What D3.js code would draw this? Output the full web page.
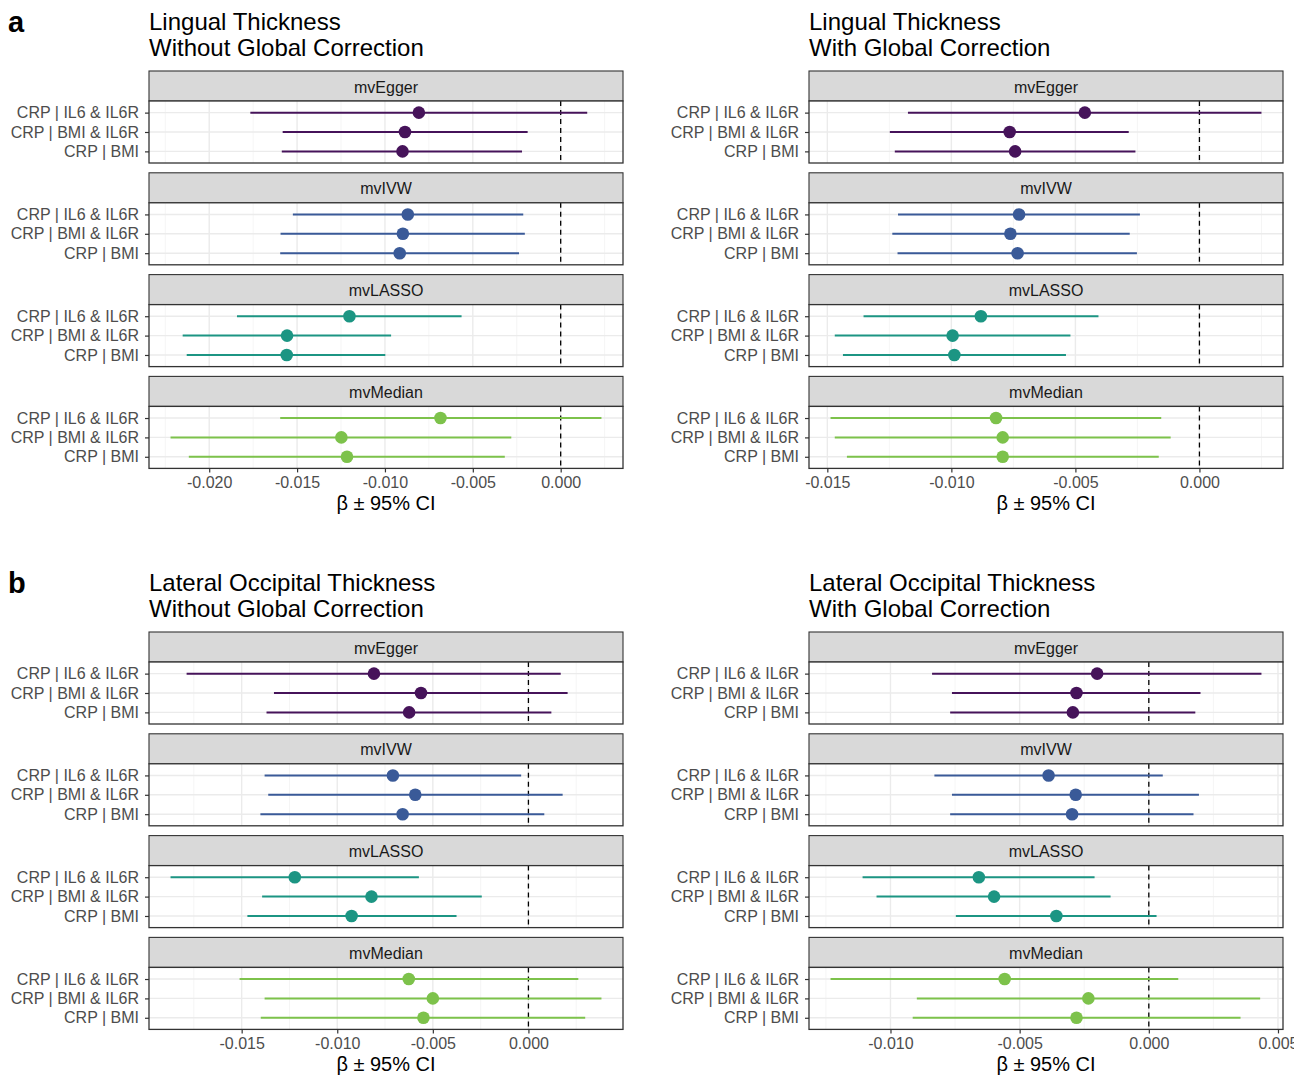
<!DOCTYPE html>
<html>
<head>
<meta charset="utf-8">
<script src="https://cdn.jsdelivr.net/npm/d3@7"></script>
<style>
  html, body { margin: 0; padding: 0; background: #fff; overflow: hidden; }
  svg text { font-family: "Liberation Sans", Arial, Helvetica, sans-serif; }
</style>
</head>
<body>
<div id="chart"></div>
<script>
// facets and rows (rows listed top to bottom)
const methods = ['mvEgger', 'mvIVW', 'mvLASSO', 'mvMedian'];
const exposures = ['CRP | IL6 & IL6R', 'CRP | BMI & IL6R', 'CRP | BMI'];

// values are ordered method by method, each with the three exposures above
// a: lingual thickness, without global correction
const lingualRawBeta  = [-0.00807, -0.00886, -0.00900, -0.00870, -0.00898, -0.00916, -0.01202, -0.01557, -0.01559, -0.00684, -0.01248, -0.01216];
const lingualRawLower = [-0.01766, -0.01582, -0.01587, -0.01524, -0.01594, -0.01596, -0.01842, -0.02151, -0.02128, -0.01596, -0.02220, -0.02116];
const lingualRawUpper = [ 0.00151, -0.00188, -0.00220, -0.00213, -0.00204, -0.00237, -0.00564, -0.00965, -0.00998,  0.00232, -0.00281, -0.00318];

// a: lingual thickness, with global correction
const lingualGlobBeta  = [-0.00462, -0.00765, -0.00743, -0.00727, -0.00762, -0.00733, -0.00881, -0.00995, -0.00988, -0.00820, -0.00793, -0.00793];
const lingualGlobLower = [-0.01175, -0.01248, -0.01228, -0.01215, -0.01238, -0.01217, -0.01354, -0.01470, -0.01437, -0.01487, -0.01470, -0.01421];
const lingualGlobUpper = [ 0.00250, -0.00285, -0.00258, -0.00240, -0.00281, -0.00252, -0.00407, -0.00520, -0.00538, -0.00154, -0.00116, -0.00164];

// b: lateral occipital thickness, without global correction
const occipRawBeta  = [-0.00808, -0.00562, -0.00624, -0.00709, -0.00592, -0.00658, -0.01222, -0.00821, -0.00925, -0.00626, -0.00500, -0.00549];
const occipRawLower = [-0.01788, -0.01331, -0.01370, -0.01380, -0.01361, -0.01402, -0.01872, -0.01393, -0.01470, -0.01511, -0.01380, -0.01400];
const occipRawUpper = [ 0.00169,  0.00205,  0.00120, -0.00038,  0.00179,  0.00083, -0.00573, -0.00244, -0.00376,  0.00261,  0.00382,  0.00297];

// b: lateral occipital thickness, with global correction
const occipGlobBeta  = [-0.00200, -0.00280, -0.00294, -0.00388, -0.00283, -0.00297, -0.00658, -0.00599, -0.00358, -0.00558, -0.00234, -0.00280];
const occipGlobLower = [-0.00839, -0.00762, -0.00769, -0.00830, -0.00762, -0.00769, -0.01108, -0.01054, -0.00747, -0.01232, -0.00898, -0.00914];
const occipGlobUpper = [ 0.00436,  0.00200,  0.00180,  0.00054,  0.00194,  0.00173, -0.00210, -0.00148,  0.00030,  0.00114,  0.00431,  0.00355];

// x axis breaks per plot
const ticksLingualRaw  = [-0.020, -0.015, -0.010, -0.005, 0.000];
const ticksLingualGlob = [-0.015, -0.010, -0.005, 0.000];
const ticksOccipRaw    = [-0.015, -0.010, -0.005, 0.000];
const ticksOccipGlob   = [-0.010, -0.005, 0.000, 0.005];

const methodColors = ['#46135a', '#3a5a98', '#1c9583', '#7dc24b'];

const W = 1294, H = 1079;
const svg = d3.select('#chart').append('svg')
  .attr('width', W)
  .attr('height', H);

const plots = [
  { letter: 'a', title: ['Lingual Thickness', 'Without Global Correction'], col: 0, row: 0,
    beta: lingualRawBeta, lower: lingualRawLower, upper: lingualRawUpper, ticks: ticksLingualRaw },
  { letter: null, title: ['Lingual Thickness', 'With Global Correction'], col: 1, row: 0,
    beta: lingualGlobBeta, lower: lingualGlobLower, upper: lingualGlobUpper, ticks: ticksLingualGlob },
  { letter: 'b', title: ['Lateral Occipital Thickness', 'Without Global Correction'], col: 0, row: 1,
    beta: occipRawBeta, lower: occipRawLower, upper: occipRawUpper, ticks: ticksOccipRaw },
  { letter: null, title: ['Lateral Occipital Thickness', 'With Global Correction'], col: 1, row: 1,
    beta: occipGlobBeta, lower: occipGlobLower, upper: occipGlobUpper, ticks: ticksOccipGlob }
];

const colX = [149, 809];
const rowY = [0, 561];
const panelW = 474;
const stripH = 30, panelH = 62, facetStep = 101.8;
// ggplot prints a plain hyphen, not the unicode minus
const fmt = v => d3.format('.3f')(v).replace('\u2212', '-');

plots.forEach(p => {
  const x0 = colX[p.col], oy = rowY[p.row];
  const g = svg.append('g');

  if (p.letter) {
    g.append('text')
      .attr('x', 8).attr('y', oy + 32)
      .attr('font-size', 29).attr('font-weight', 'bold')
      .attr('fill', '#000')
      .text(p.letter);
  }

  g.selectAll('.title')
    .data(p.title)
    .enter().append('text')
    .attr('x', x0)
    .attr('y', (d, i) => oy + 30 + i * 26)
    .attr('font-size', 24)
    .attr('fill', '#000')
    .text(d => d);

  // shared x scale, ggplot style 5% expansion
  const lo = Math.min(d3.min(p.lower), 0);
  const hi = Math.max(d3.max(p.upper), 0);
  const pad = (hi - lo) * 0.05;
  const x = d3.scaleLinear().domain([lo - pad, hi + pad]).range([x0, x0 + panelW]);

  const step = p.ticks[1] - p.ticks[0];
  const minor = [];
  for (let v = p.ticks[0] - step / 2; v <= hi + pad; v += step) {
    if (v >= lo - pad) minor.push(v);
  }

  const rows = exposures.map((e, j) => j);

  methods.forEach((m, i) => {
    const sTop = oy + 71 + i * facetStep;
    const pTop = sTop + stripH;
    const y = d3.scalePoint().domain(exposures).range([pTop, pTop + panelH]).padding(0.6);
    const color = methodColors[i];
    const fg = g.append('g');

    // strip
    fg.append('rect')
      .attr('x', x0).attr('y', sTop)
      .attr('width', panelW).attr('height', stripH)
      .attr('fill', '#d9d9d9').attr('stroke', '#333').attr('stroke-width', 1.1);
    fg.append('text')
      .attr('x', x0 + panelW / 2).attr('y', sTop + stripH / 2 + 6.5)
      .attr('text-anchor', 'middle').attr('font-size', 16).attr('fill', '#1a1a1a')
      .text(m);

    // panel background and grid
    fg.append('rect')
      .attr('x', x0).attr('y', pTop).attr('width', panelW).attr('height', panelH)
      .attr('fill', '#fff');
    fg.selectAll('.minor').data(minor).enter().append('line')
      .attr('x1', d => x(d)).attr('x2', d => x(d))
      .attr('y1', pTop).attr('y2', pTop + panelH)
      .attr('stroke', '#f2f2f2').attr('stroke-width', 0.8);
    fg.selectAll('.major').data(p.ticks).enter().append('line')
      .attr('x1', d => x(d)).attr('x2', d => x(d))
      .attr('y1', pTop).attr('y2', pTop + panelH)
      .attr('stroke', '#ebebeb').attr('stroke-width', 1.4);
    fg.selectAll('.hgrid').data(exposures).enter().append('line')
      .attr('x1', x0).attr('x2', x0 + panelW)
      .attr('y1', d => y(d)).attr('y2', d => y(d))
      .attr('stroke', '#ebebeb').attr('stroke-width', 1.4);

    // zero reference
    fg.append('line')
      .attr('x1', x(0)).attr('x2', x(0))
      .attr('y1', pTop).attr('y2', pTop + panelH)
      .attr('stroke', '#000').attr('stroke-width', 1.3)
      .attr('stroke-dasharray', '5,4');

    const recs = rows.map(j => ({
      label: exposures[j],
      b: p.beta[i * 3 + j],
      l: p.lower[i * 3 + j],
      u: p.upper[i * 3 + j]
    }));

    fg.selectAll('.ci').data(recs).enter().append('line')
      .attr('x1', d => x(d.l)).attr('x2', d => x(d.u))
      .attr('y1', d => y(d.label)).attr('y2', d => y(d.label))
      .attr('stroke', color).attr('stroke-width', 2);
    fg.selectAll('.pt').data(recs).enter().append('circle')
      .attr('cx', d => x(d.b)).attr('cy', d => y(d.label))
      .attr('r', 6.3).attr('fill', color);

    // panel border
    fg.append('rect')
      .attr('x', x0).attr('y', pTop).attr('width', panelW).attr('height', panelH)
      .attr('fill', 'none').attr('stroke', '#333').attr('stroke-width', 1.3);

    // y axis
    const yAxis = d3.axisLeft(y).tickSize(4).tickPadding(6);
    const ya = fg.append('g').attr('transform', `translate(${x0},0)`).call(yAxis);
    ya.select('.domain').remove();
    ya.selectAll('line').attr('stroke', '#333').attr('stroke-width', 1.2);
    ya.selectAll('text')
      .attr('font-size', 16).attr('fill', '#4d4d4d')
      .attr('font-family', '"Liberation Sans", Arial, Helvetica, sans-serif');

    if (i === methods.length - 1) {
      const xAxis = d3.axisBottom(x).tickValues(p.ticks).tickFormat(fmt).tickSize(4).tickPadding(4);
      const xa = fg.append('g').attr('transform', `translate(0,${pTop + panelH})`).call(xAxis);
      xa.select('.domain').remove();
      xa.selectAll('line').attr('stroke', '#333').attr('stroke-width', 1.2);
      xa.selectAll('text')
        .attr('font-size', 16).attr('fill', '#4d4d4d')
        .attr('font-family', '"Liberation Sans", Arial, Helvetica, sans-serif');

      fg.append('text')
        .attr('x', x0 + panelW / 2).attr('y', pTop + panelH + 42)
        .attr('text-anchor', 'middle').attr('font-size', 20).attr('fill', '#000')
        .text('\u03b2 \u00b1 95% CI');
    }
  });
});
</script>
</body>
</html>
